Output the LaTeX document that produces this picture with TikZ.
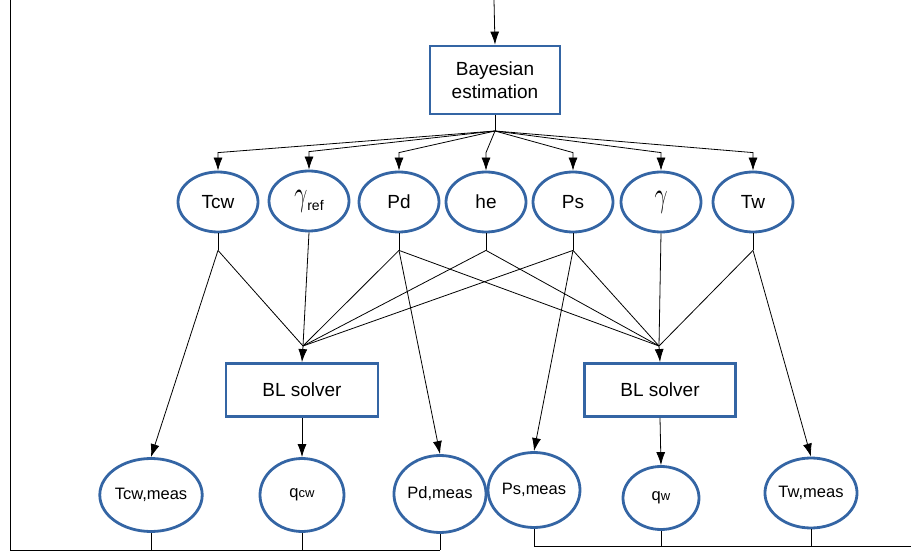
\documentclass[tikz,border=0pt]{standalone}
\usepackage{fontspec}
\usepackage{graphicx}
\setmainfont{Liberation Sans}
\usetikzlibrary{arrows.meta,shapes.geometric}
\definecolor{boxblue}{RGB}{52,101,164}
\newcommand{\gam}{\resizebox*{13pt}{22pt}{$\gamma$}}
\tikzset{
	var/.style={ellipse, draw=boxblue, line width=2.8pt, minimum width=80pt, minimum height=60pt, inner sep=0pt, font=\fontsize{19}{22}\selectfont},
	meas/.style={var, font=\fontsize{16.5}{20}\selectfont},
	solver/.style={rectangle, draw=boxblue, line width=2.8pt, inner sep=0pt, align=center, font=\fontsize{19}{23}\selectfont},
	link/.style={line width=0.8pt},
	arr/.style={link, -{Latex[length=13pt,width=9pt]}}
}
\begin{document}
\begin{tikzpicture}[x=1pt, y=-1pt]
		\useasboundingbox (0, 0) rectangle (911, 553);
		% estimation box
		\coordinate (in) at (494, 0);
		\node[solver, minimum width=130pt, minimum height=68pt] (bayes) at (495, 80) {Bayesian\\estimation};
		\draw[arr] (in) -- (bayes.north);
		\coordinate (hub) at (495, 131);
		\draw[link] (bayes.south) -- (hub);
		% parameters
		\node[var] (tcw) at (218, 202) {Tcw};
		\node[var] (gref) at (309, 201) {\raisebox{5pt}{\gam}{\fontsize{14}{14}\selectfont ref}};
		\node[var] (pd) at (399, 202) {Pd};
		\node[var] (he) at (486, 202) {he};
		\node[var] (ps) at (573, 202) {Ps};
		\node[var] (g) at (661, 202) {\gam};
		\node[var] (tw) at (753, 202) {Tw};
		\foreach \n in {tcw, gref, pd, he, ps, g, tw} {
			\coordinate (\n-in) at ([yshift=18pt]\n.north);
			\draw[arr] (hub) -- (\n-in) -- (\n.north);
		}
		\foreach \n in {tcw, pd, he, ps, tw} {
			\coordinate (\n-out) at ([yshift=-17pt]\n.south);
			\draw[link] (\n.south) -- (\n-out);
		}
		\coordinate (gref-out) at (gref.south);
		\coordinate (g-out) at (g.south);
		% solvers
		\node[solver, minimum width=152pt, minimum height=53pt] (bl1) at (302, 390) {BL solver};
		\node[solver, minimum width=151pt, minimum height=53pt] (bl2) at (660, 390) {BL solver};
		\coordinate (hub1) at (303, 346);
		\coordinate (hub2) at (659, 346);
		\foreach \n in {tcw, gref, pd, he, ps} \draw[link] (\n-out) -- (hub1);
		\foreach \n in {pd, he, ps, g, tw} \draw[link] (\n-out) -- (hub2);
		\draw[arr] (hub1) -- (bl1.north);
		\draw[arr] (hub2) -- (bl2.north);
		% measurements
		\node[meas, minimum width=86pt, minimum height=73pt] (tcwm) at (151, 495) {Tcw,meas};
		\node[meas, minimum width=84pt, minimum height=73pt] (qcw) at (302, 495) {q{\fontsize{13}{13}\selectfont cw}};
		\node[meas, minimum width=92pt, minimum height=77pt] (pdm) at (440, 494) {Pd,meas};
		\node[meas, minimum width=92pt, minimum height=75pt] (psm) at (534, 490) {Ps,meas};
		\node[meas, minimum width=76pt, minimum height=63pt] (qw) at (661, 498) {q{\fontsize{13}{13}\selectfont w}};
		\node[meas, minimum width=88pt, minimum height=70pt] (twm) at (811, 493) {Tw,meas};
		\draw[arr] (tcw-out) -- (tcwm.north);
		\draw[arr] (bl1.south) -- (qcw.north);
		\draw[arr] (pd-out) -- (pdm.north);
		\draw[arr] (ps-out) -- (psm.north);
		\draw[arr] (bl2.south) -- (qw.north);
		\draw[arr] (tw-out) -- (twm.north);
		% feedback lines
		\coordinate (lt) at (10, 0);
		\coordinate (lb) at (10, 550);
		\coordinate (rb) at (911, 546);
		\draw[link] (lt) -- (lb) -- (pdm.south |- lb);
		\foreach \n in {tcwm, qcw, pdm} \draw[link] (\n.south) -- (\n.south |- lb);
		\draw[link] (psm.south |- rb) -- (rb);
		\foreach \n in {psm, qw, twm} \draw[link] (\n.south) -- (\n.south |- rb);
	\end{tikzpicture}
\end{document}
